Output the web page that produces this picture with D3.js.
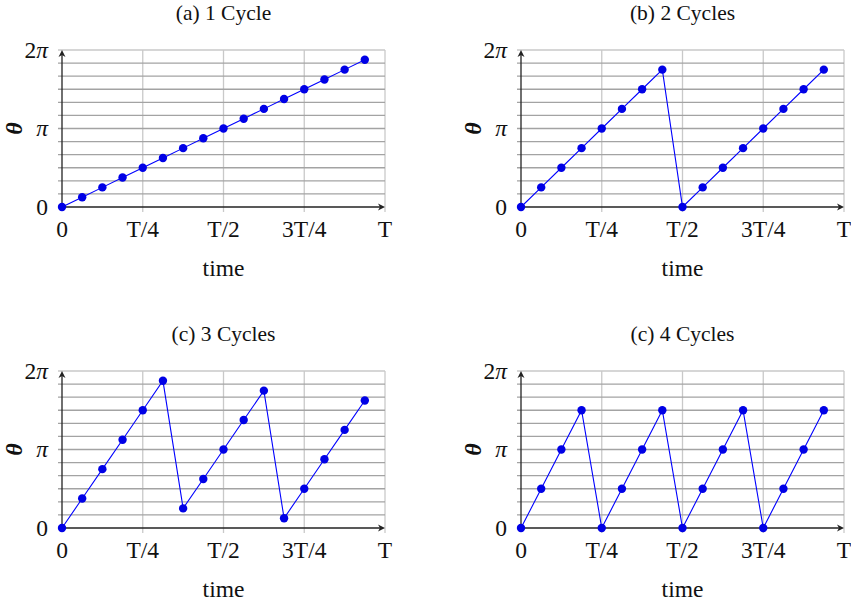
<!DOCTYPE html>
<html>
<head>
<meta charset="utf-8">
<script src="https://cdn.jsdelivr.net/npm/d3@7"></script>
<style>
  html, body { margin: 0; padding: 0; background: #fff; }
  svg { display: block; }
</style>
</head>
<body>
<svg id="chart" width="851" height="601"></svg>
<script>
// ---- data (theta in multiples of pi, time in fractions of T) ----
const timeValues = [0, 0.0625, 0.125, 0.1875, 0.25, 0.3125, 0.375, 0.4375,
                    0.5, 0.5625, 0.625, 0.6875, 0.75, 0.8125, 0.875, 0.9375];
const thetaA = [0, 0.125, 0.25, 0.375, 0.5, 0.625, 0.75, 0.875,
                1, 1.125, 1.25, 1.375, 1.5, 1.625, 1.75, 1.875];
const thetaB = [0, 0.25, 0.5, 0.75, 1, 1.25, 1.5, 1.75,
                0, 0.25, 0.5, 0.75, 1, 1.25, 1.5, 1.75];
const thetaC = [0, 0.375, 0.75, 1.125, 1.5, 1.875, 0.25, 0.625,
                1, 1.375, 1.75, 0.125, 0.5, 0.875, 1.25, 1.625];
const thetaD = [0, 0.5, 1, 1.5, 0, 0.5, 1, 1.5,
                0, 0.5, 1, 1.5, 0, 0.5, 1, 1.5];
const panelTitles = ["(a) 1 Cycle", "(b) 2 Cycles", "(c) 3 Cycles", "(c) 4 Cycles"];
const xTickValues = [0, 0.25, 0.5, 0.75, 1];
const xTickLabels = ["0", "T/4", "T/2", "3T/4", "T"];
const yTickValues = [0, 1, 2];
const yTickLabels = ["0", "π", "2π"];
const yGridValues = [1/6, 2/6, 3/6, 4/6, 5/6, 1, 7/6, 8/6, 9/6, 10/6, 11/6, 2];
const xLabel = "time";
const yLabel = "θ";

const seriesList = [thetaA, thetaB, thetaC, thetaD];
const FONT = "'Liberation Serif', 'DejaVu Serif', serif";
const FS = 23.5;

// ---- layout ----
const panels = [
  { left: 62,  top: 50,  bottom: 207 },
  { left: 521, top: 50,  bottom: 207 },
  { left: 62,  top: 371, bottom: 528 },
  { left: 521, top: 371, bottom: 528 }
];
const plotW = 323;

const svg = d3.select("#chart");

panels.forEach((p, pi) => {
  const x = d3.scaleLinear().domain([0, 1]).range([p.left, p.left + plotW]);
  const y = d3.scaleLinear().domain([0, 2]).range([p.bottom, p.top]);
  const g = svg.append("g").attr("font-family", FONT).attr("fill", "#111");

  // vertical grid lines
  g.selectAll(".vg").data(xTickValues.slice(1)).enter().append("line")
    .attr("x1", d => x(d)).attr("x2", d => x(d))
    .attr("y1", y(2)).attr("y2", y(0) + 5)
    .attr("stroke", "#c9c9c9").attr("stroke-width", 1.3);

  // horizontal grid lines (extend left as ticks)
  g.selectAll(".hg").data(yGridValues).enter().append("line")
    .attr("x1", x(0) - 4).attr("x2", x(1))
    .attr("y1", d => y(d)).attr("y2", d => y(d))
    .attr("stroke", d => d === 2 ? "#c9c9c9" : "#a3a3a3").attr("stroke-width", 1.3);

  // axes
  const axisColor = "#222";
  g.append("line").attr("x1", x(0)).attr("x2", x(1) - 2)
    .attr("y1", y(0)).attr("y2", y(0)).attr("stroke", axisColor).attr("stroke-width", 1.3);
  g.append("line").attr("x1", x(0)).attr("x2", x(0))
    .attr("y1", y(0)).attr("y2", y(2) + 2).attr("stroke", axisColor).attr("stroke-width", 1.3);
  // arrowheads
  const xe = x(1), ye = y(0);
  g.append("path")
    .attr("d", `M${xe},${ye} L${xe - 7},${ye - 3.5} L${xe - 5},${ye} L${xe - 7},${ye + 3.5} Z`)
    .attr("fill", axisColor);
  const xa = x(0), ya = y(2);
  g.append("path")
    .attr("d", `M${xa},${ya} L${xa - 3.5},${ya + 7} L${xa},${ya + 5} L${xa + 3.5},${ya + 7} Z`)
    .attr("fill", axisColor);

  // x tick labels
  g.selectAll(".xt").data(xTickValues).enter().append("text")
    .attr("x", d => x(d)).attr("y", y(0) + 30)
    .attr("text-anchor", "middle").attr("font-size", FS)
    .text((d, i) => xTickLabels[i]);

  // y tick labels
  const yt = g.selectAll(".yt").data(yTickValues).enter().append("text")
    .attr("x", x(0) - 14).attr("y", d => y(d) + 7.5)
    .attr("text-anchor", "end").attr("font-size", FS);
  yt.each(function(d, i) {
    const lbl = yTickLabels[i];
    const t = d3.select(this);
    if (lbl.endsWith("π")) {
      if (lbl.length > 1) t.append("tspan").text(lbl.slice(0, -1));
      t.append("tspan").attr("font-style", "italic").text("π");
    } else {
      t.text(lbl);
    }
  });

  // axis labels
  g.append("text").attr("x", (x(0) + x(1)) / 2).attr("y", y(0) + 69)
    .attr("text-anchor", "middle").attr("font-size", FS).text(xLabel);
  g.append("text")
    .attr("transform", `translate(${x(0) - 40},${y(1)}) rotate(-90)`)
    .attr("text-anchor", "middle").attr("font-size", 24)
    .attr("font-weight", "bold").attr("font-style", "italic").text(yLabel);

  // title
  g.append("text").attr("x", (x(0) + x(1)) / 2).attr("y", y(2) - 30)
    .attr("text-anchor", "middle").attr("font-size", 21.5).text(panelTitles[pi]);

  // series
  const pts = timeValues.map((t, i) => [t, seriesList[pi][i]]);
  const line = d3.line().x(d => x(d[0])).y(d => y(d[1]));
  g.append("path").datum(pts).attr("d", line)
    .attr("fill", "none").attr("stroke", "#0000ff").attr("stroke-width", 1.1);
  g.selectAll(".pt").data(pts).enter().append("circle")
    .attr("cx", d => x(d[0])).attr("cy", d => y(d[1])).attr("r", 4.2)
    .attr("fill", "#0000e6");
});
</script>
</body>
</html>
